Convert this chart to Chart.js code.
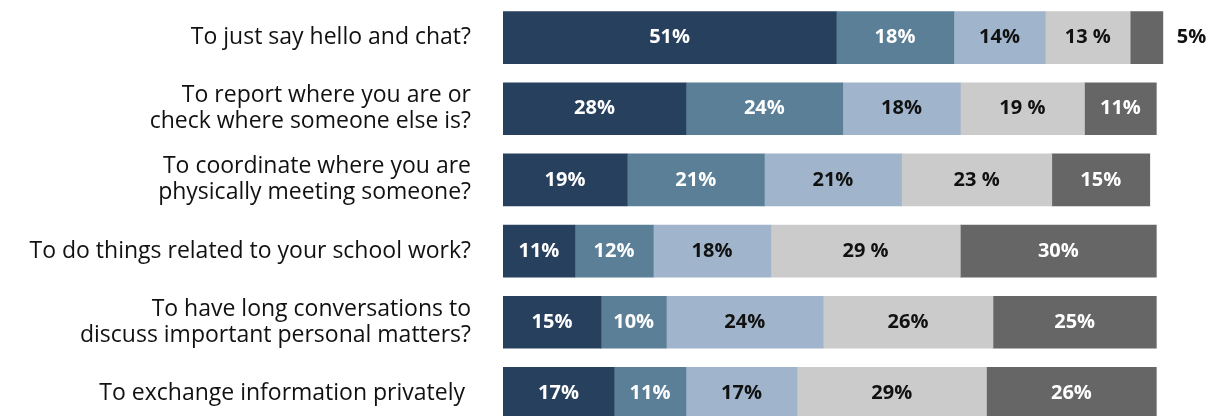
<!DOCTYPE html>
<html>
<head>
<meta charset="utf-8">
<script src="https://cdn.jsdelivr.net/npm/chart.js@4/dist/chart.umd.min.js"></script>
<style>
  html, body { margin: 0; padding: 0; background: #fff; overflow: hidden; }
  #wrap { width: 1211px; height: 430px; }
</style>
</head>
<body>
<div id="wrap"><canvas id="chart"></canvas></div>
<script>
// categories (y axis)
const categories = [
  'To just say hello and chat?',
  ['To report where you are or', 'check where someone else is?'],
  ['To coordinate where you are', 'physically meeting someone?'],
  'To do things related to your school work?',
  ['To have long conversations to', 'discuss important personal matters?'],
  'To exchange information privately\u00a0'
];

// series values, in percent
const seriesA = [51, 28, 19, 11, 15, 17];
const seriesB = [18, 24, 21, 12, 10, 11];
const seriesC = [14, 18, 21, 18, 24, 17];
const seriesD = [13, 19, 23, 29, 26, 29];
const seriesE = [5, 11, 15, 30, 25, 26];

// the light grey labels are printed "13 %" in the first four rows
const seriesDSuffix = [' %', ' %', ' %', ' %', '%', '%'];

const colors = ['#27405e', '#5b7f97', '#a0b5cb', '#cbcbcb', '#666666'];
const labelColors = ['#ffffff', '#ffffff', '#111111', '#111111', '#ffffff'];

const barLabels = {
  id: 'barLabels',
  afterDatasetsDraw(chart) {
    const ctx = chart.ctx;
    ctx.save();
    ctx.font = 'bold 20px "Open Sans", sans-serif';
    ctx.textBaseline = 'middle';
    chart.data.datasets.forEach((ds, di) => {
      const meta = chart.getDatasetMeta(di);
      meta.data.forEach((bar, i) => {
        const v = ds.data[i];
        const suffix = di === 3 ? seriesDSuffix[i] : '%';
        const text = v + suffix;
        const w = Math.abs(bar.x - bar.base);
        if (w < 40) {
          // too narrow: put it outside on the right
          ctx.fillStyle = '#111111';
          ctx.textAlign = 'left';
          ctx.fillText(text, bar.x + 14, bar.y);
        } else {
          ctx.fillStyle = labelColors[di];
          ctx.textAlign = 'center';
          ctx.fillText(text, (bar.x + bar.base) / 2, bar.y);
        }
      });
    });
    ctx.restore();
  }
};

const makeSet = (data, i) => ({
  data: data,
  backgroundColor: colors[i],
  borderWidth: 0,
  barThickness: 52
});

new Chart(document.getElementById('chart'), {
  type: 'bar',
  data: {
    labels: categories,
    datasets: [seriesA, seriesB, seriesC, seriesD, seriesE].map(makeSet)
  },
  options: {
    indexAxis: 'y',
    responsive: true,
    maintainAspectRatio: false,
    animation: false,
    layout: { padding: { top: 2, bottom: 1, left: 0, right: 22 } },
    plugins: {
      legend: { display: false },
      tooltip: { enabled: false }
    },
    scales: {
      x: {
        stacked: true,
        min: 0,
        max: 105,
        display: false
      },
      y: {
        stacked: true,
        grid: { display: false, drawTicks: false },
        border: { display: false },
        ticks: {
          color: '#111111',
          padding: 32,
          font: { family: '"Open Sans", sans-serif', size: 23, lineHeight: 1.13 }
        },
        afterFit(scale) {
          scale.width = 503;
          scale.paddingTop = 0;
          scale.paddingBottom = 0;
        }
      }
    }
  },
  plugins: [barLabels]
});
</script>
</body>
</html>
